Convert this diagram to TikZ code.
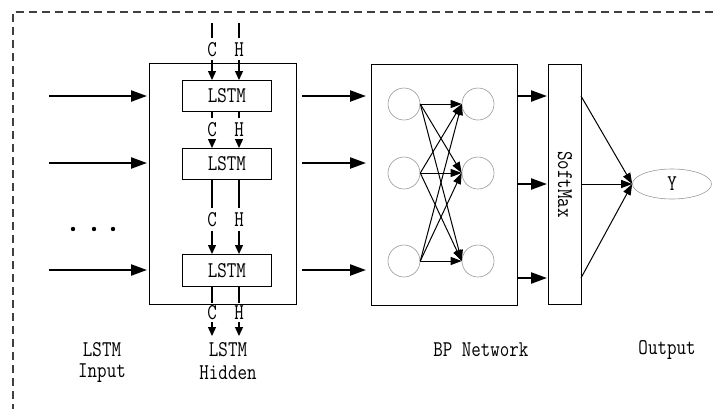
\documentclass[tikz,border=0pt]{standalone}
\usepackage{fontspec}
\newfontfamily\simfont[FakeStretch=0.82]{Latin Modern Mono}
\usetikzlibrary{arrows.meta,shapes.geometric}
\begin{document}
\begin{tikzpicture}[x=1pt,y=-1pt,
  font=\simfont\fontsize{22.5}{24}\selectfont,
  box/.style={draw, line width=0.9pt, inner sep=0pt, anchor=north west},
  big/.style={line width=2.3pt, -{Triangle[length=16pt,width=11pt]}},
  charr/.style={line width=1.3pt, -{Triangle[length=9pt,width=8pt]}},
  chl/.style={line width=1.3pt},
  net/.style={line width=1pt, -{Triangle[length=11pt,width=8pt]}},
  neuron/.style={draw=gray!80, line width=0.6pt, circle, minimum size=32pt, inner sep=0pt},
  lab/.style={inner sep=0pt}]
\useasboundingbox (0,0) rectangle (716,408);
\draw[line width=1.2pt, gray!50!black, dash pattern=on 8pt off 5pt] (13,412) |- (720,12);

% LSTM hidden block
\node[box, minimum width=147pt, minimum height=241pt] (hid) at (149,63) {};
\node[box, minimum width=89pt, minimum height=31pt] (l1) at (182,80) {LSTM};
\node[box, minimum width=89pt, minimum height=31pt] (l2) at (182,148) {LSTM};
\node[box, minimum width=89pt, minimum height=32pt] (l3) at (182,254) {LSTM};

% C / H flows
\foreach \x/\n/\t in {212/c/C,239/h/H}{
  \coordinate (\n0a) at (\x,23); \coordinate (\n0b) at (\x,38);
  \node[lab] (\n0t) at (\x,50) {\t};
  \coordinate (\n0s) at (\x,60);
  \draw[chl] (\n0a) -- (\n0b);
  \draw[charr] (\n0s) -- (\n0s |- l1.north);
  % between 1 and 2
  \coordinate (\n1b) at (\x,118);
  \node[lab] (\n1t) at (\x,130) {\t};
  \coordinate (\n1s) at (\x,139);
  \draw[chl] (\n1b |- l1.south) -- (\n1b);
  \draw[charr] (\n1s) -- (\n1s |- l2.north);
  % between 2 and 3
  \coordinate (\n2b) at (\x,208);
  \node[lab] (\n2t) at (\x,220) {\t};
  \coordinate (\n2s) at (\x,231);
  \draw[chl] (\n2b |- l2.south) -- (\n2b);
  \draw[charr] (\n2s) -- (\n2s |- l3.north);
  % below 3
  \coordinate (\n3b) at (\x,303);
  \node[lab] (\n3t) at (\x,313) {\t};
  \coordinate (\n3s) at (\x,322);
  \coordinate (\n3e) at (\x,336);
  \draw[chl] (\n3b |- l3.south) -- (\n3b);
  \draw[charr] (\n3s) -- (\n3e);
}

% inputs
\foreach \i/\y in {1/96,2/163,3/270}{
  \coordinate (in\i) at (49,\y);
  \draw[big, shorten >=2pt] (in\i) -- (in\i -| hid.west);
}
\foreach \i/\x in {1/73,2/94,3/113}
  \fill (\x,229) circle (2.2pt) coordinate (dot\i);

% BP network
\node[box, minimum width=146pt, minimum height=241pt] (bp) at (371,64) {};
\foreach \i/\y in {1/104,2/173,3/261}{
  \node[neuron] (a\i) at (404,\y) {};
  \node[neuron] (b\i) at (478,\y) {};
}
\foreach \i in {1,2,3}{
  \foreach \j in {1,2,3}{
    \draw[net] (a\i.east) -- (b\j.west);
  }
}
\foreach \i/\y in {1/96,2/163,3/270}{
  \coordinate (h\i) at (296,\y);
  \draw[big, shorten <=6pt, shorten >=5pt] (h\i) -- (h\i -| bp.west);
}

% SoftMax
\node[box, minimum width=33pt, minimum height=240pt] (sm) at (548,64) {};
\node[rotate=-90, lab] (smt) at (sm.center) {SoftMax};
\node[draw=gray!80, line width=0.6pt, ellipse, minimum width=79pt, minimum height=30pt, inner sep=0pt] (Y) at (672,184) {Y};
\foreach \i/\y in {1/96,2/184,3/278}{
  \coordinate (p\i) at (517,\y);
  \draw[big, shorten >=1pt] (p\i) -- (p\i -| sm.west);
  \coordinate (q\i) at (581,\y);
  \draw[net] (q\i) -- (Y.west);
}

% labels
\node[lab] (t1) at (102,350) {LSTM};
\node[lab] (t2) at (102,373) {Input};
\node[lab] (t3) at (228,350) {LSTM};
\node[lab] (t4) at (228,373) {Hidden};
\node[lab] (t5) at (481,350) {BP Network};
\node[lab] (t6) at (667,350) {Output};
\end{tikzpicture}
\end{document}
